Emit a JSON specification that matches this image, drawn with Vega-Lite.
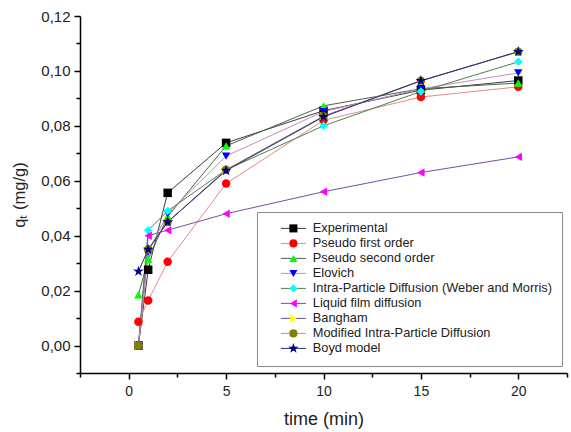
{
  "$schema": "https://vega.github.io/schema/vega-lite/v6.json",
  "width": 487,
  "height": 357,
  "autosize": {"type": "none"},
  "padding": {"left": 80, "top": 16, "right": 4, "bottom": 59},
  "background": "white",
  "config": {
    "view": {"stroke": null},
    "font": "Liberation Sans",
    "axis": {
      "domainColor": "#000000",
      "domainWidth": 1.5,
      "tickColor": "#000000",
      "tickWidth": 1.5,
      "grid": false,
      "labelFont": "Liberation Sans",
      "labelColor": "#222222",
      "titleFont": "Liberation Sans",
      "titleColor": "#222222",
      "titleFontWeight": "normal"
    }
  },
  "data": {
    "values": [
      {"series": "Experimental", "t": 0.5, "q": 0.0},
      {"series": "Experimental", "t": 1, "q": 0.0276},
      {"series": "Experimental", "t": 2, "q": 0.0556},
      {"series": "Experimental", "t": 5, "q": 0.0738},
      {"series": "Experimental", "t": 10, "q": 0.0855},
      {"series": "Experimental", "t": 15, "q": 0.093},
      {"series": "Experimental", "t": 20, "q": 0.0965},
      {"series": "Pseudo first order", "t": 0.5, "q": 0.0087},
      {"series": "Pseudo first order", "t": 1, "q": 0.0164},
      {"series": "Pseudo first order", "t": 2, "q": 0.0305},
      {"series": "Pseudo first order", "t": 5, "q": 0.059},
      {"series": "Pseudo first order", "t": 10, "q": 0.082},
      {"series": "Pseudo first order", "t": 15, "q": 0.0905},
      {"series": "Pseudo first order", "t": 20, "q": 0.0942},
      {"series": "Pseudo second order", "t": 0.5, "q": 0.0185},
      {"series": "Pseudo second order", "t": 1, "q": 0.0315},
      {"series": "Pseudo second order", "t": 2, "q": 0.047},
      {"series": "Pseudo second order", "t": 5, "q": 0.0727},
      {"series": "Pseudo second order", "t": 10, "q": 0.0873},
      {"series": "Pseudo second order", "t": 15, "q": 0.0935},
      {"series": "Pseudo second order", "t": 20, "q": 0.0956},
      {"series": "Elovich", "t": 0.5, "q": 0.0},
      {"series": "Elovich", "t": 1, "q": 0.034},
      {"series": "Elovich", "t": 2, "q": 0.048},
      {"series": "Elovich", "t": 5, "q": 0.069},
      {"series": "Elovich", "t": 10, "q": 0.0852},
      {"series": "Elovich", "t": 15, "q": 0.0935},
      {"series": "Elovich", "t": 20, "q": 0.0993},
      {"series": "Intra-Particle Diffusion (Weber and Morris)", "t": 0.5, "q": 0.0},
      {"series": "Intra-Particle Diffusion (Weber and Morris)", "t": 1, "q": 0.042},
      {"series": "Intra-Particle Diffusion (Weber and Morris)", "t": 2, "q": 0.049},
      {"series": "Intra-Particle Diffusion (Weber and Morris)", "t": 5, "q": 0.064},
      {"series": "Intra-Particle Diffusion (Weber and Morris)", "t": 10, "q": 0.08},
      {"series": "Intra-Particle Diffusion (Weber and Morris)", "t": 15, "q": 0.0925},
      {"series": "Intra-Particle Diffusion (Weber and Morris)", "t": 20, "q": 0.1033},
      {"series": "Liquid film diffusion", "t": 0.5, "q": 0.0},
      {"series": "Liquid film diffusion", "t": 1, "q": 0.04},
      {"series": "Liquid film diffusion", "t": 2, "q": 0.042},
      {"series": "Liquid film diffusion", "t": 5, "q": 0.048},
      {"series": "Liquid film diffusion", "t": 10, "q": 0.056},
      {"series": "Liquid film diffusion", "t": 15, "q": 0.063},
      {"series": "Liquid film diffusion", "t": 20, "q": 0.0687},
      {"series": "Bangham", "t": 0.5, "q": 0.0},
      {"series": "Bangham", "t": 1, "q": 0.035},
      {"series": "Bangham", "t": 2, "q": 0.045},
      {"series": "Bangham", "t": 5, "q": 0.064},
      {"series": "Bangham", "t": 10, "q": 0.0835},
      {"series": "Bangham", "t": 15, "q": 0.0964},
      {"series": "Bangham", "t": 20, "q": 0.107},
      {"series": "Modified Intra-Particle Diffusion", "t": 0.5, "q": 0.0},
      {"series": "Modified Intra-Particle Diffusion", "t": 1, "q": 0.035},
      {"series": "Modified Intra-Particle Diffusion", "t": 2, "q": 0.045},
      {"series": "Modified Intra-Particle Diffusion", "t": 5, "q": 0.064},
      {"series": "Modified Intra-Particle Diffusion", "t": 10, "q": 0.0835},
      {"series": "Modified Intra-Particle Diffusion", "t": 15, "q": 0.0964},
      {"series": "Modified Intra-Particle Diffusion", "t": 20, "q": 0.107},
      {"series": "Boyd model", "t": 0.5, "q": 0.027},
      {"series": "Boyd model", "t": 1, "q": 0.035},
      {"series": "Boyd model", "t": 2, "q": 0.045},
      {"series": "Boyd model", "t": 5, "q": 0.0637},
      {"series": "Boyd model", "t": 10, "q": 0.0833},
      {"series": "Boyd model", "t": 15, "q": 0.0964},
      {"series": "Boyd model", "t": 20, "q": 0.107}
    ]
  },
  "resolve": {"axis": {"x": "independent", "y": "independent"}},
  "layer": [
    {
      "mark": {"type": "line", "strokeWidth": 1, "clip": false},
      "encoding": {
        "x": {
          "field": "t", "type": "quantitative",
          "scale": {"domain": [-2.5, 22.5], "nice": false, "zero": false},
          "axis": {
            "orient": "bottom",
            "values": [0, 5, 10, 15, 20],
            "title": "time (min)",
            "titleFontSize": 18,
            "titlePadding": 12,
            "labelFontSize": 14,
            "labelPadding": 5,
            "tickSize": 6
          }
        },
        "y": {
          "field": "q", "type": "quantitative",
          "scale": {"domain": [-0.01, 0.12], "nice": false, "zero": false},
          "axis": {
            "orient": "left",
            "values": [0, 0.02, 0.04, 0.06, 0.08, 0.1, 0.12],
            "labelExpr": "replace(format(datum.value, '.2f'), '.', ',')",
            "title": "qₜ (mg/g)",
            "titleFontSize": 16.5,
            "titlePadding": 13,
            "labelFontSize": 15,
            "labelPadding": 4,
            "tickSize": 6
          }
        },
        "stroke": {
          "field": "series", "type": "nominal",
          "scale": {
            "domain": ["Boyd model", "Modified Intra-Particle Diffusion", "Bangham", "Liquid film diffusion", "Intra-Particle Diffusion (Weber and Morris)", "Elovich", "Pseudo second order", "Pseudo first order", "Experimental"],
            "range": ["#2e2e6e", "#b39494", "#6a4aa0", "#7a4fa0", "#4e7f4e", "#c58cc5", "#4a634a", "#e08a8a", "#3a3a3a"]
          },
          "legend": {
            "orient": "none",
            "legendX": 177,
            "legendY": 196,
            "title": null,
            "zindex": 1,
            "values": ["Experimental", "Pseudo first order", "Pseudo second order", "Elovich", "Intra-Particle Diffusion (Weber and Morris)", "Liquid film diffusion", "Bangham", "Modified Intra-Particle Diffusion", "Boyd model"],
            "padding": 10,
            "strokeColor": "#8a8a8a",
            "fillColor": "#ffffff",
            "labelFont": "Liberation Sans",
            "labelFontSize": 12.8,
            "labelColor": "#222222",
            "labelOpacity": 0,
            "labelLimit": 400,
            "symbolType": "M-3.1,0L3.1,0",
            "symbolSize": 65,
            "symbolStrokeWidth": 1,
            "symbolOffset": 20,
            "labelOffset": 13,
            "rowPadding": 1
          }
        }
      }
    },
    {
      "mark": {"type": "point", "filled": true, "opacity": 1, "size": 72, "clip": false},
      "encoding": {
        "x": {
          "field": "t", "type": "quantitative",
          "axis": {
            "orient": "bottom",
            "values": [-2.5, 2.5, 7.5, 12.5, 17.5, 22.5],
            "labels": false,
            "title": null,
            "domain": false,
            "tickSize": 4
          }
        },
        "y": {
          "field": "q", "type": "quantitative",
          "axis": {
            "orient": "left",
            "values": [-0.01, 0.01, 0.03, 0.05, 0.07, 0.09, 0.11],
            "labels": false,
            "title": null,
            "domain": false,
            "tickSize": 4
          }
        },
        "color": {
          "field": "series", "type": "nominal",
          "scale": {
            "domain": ["Experimental", "Pseudo first order", "Pseudo second order", "Elovich", "Intra-Particle Diffusion (Weber and Morris)", "Liquid film diffusion", "Bangham", "Modified Intra-Particle Diffusion", "Boyd model"],
            "range": ["#000000", "#ff0000", "#00ff00", "#0000ff", "#00ffff", "#ff00ff", "#ffff00", "#808000", "#000080"]
          },
          "legend": {
            "orient": "none",
            "legendX": 177,
            "legendY": 196,
            "title": null,
            "zindex": 2,
            "padding": 10,
            "strokeColor": "transparent",
            "fillColor": "transparent",
            "labelFont": "Liberation Sans",
            "labelFontSize": 12.8,
            "labelColor": "#222222",
            "labelLimit": 400,
            "symbolSize": 65,
            "symbolOffset": 20,
            "labelOffset": 13,
            "rowPadding": 1
          }
        },
        "shape": {
          "field": "series", "type": "nominal",
          "scale": {
            "domain": ["Experimental", "Pseudo first order", "Pseudo second order", "Elovich", "Intra-Particle Diffusion (Weber and Morris)", "Liquid film diffusion", "Bangham", "Modified Intra-Particle Diffusion", "Boyd model"],
            "range": ["square", "circle", "triangle-up", "triangle-down", "diamond", "triangle-left", "triangle-right", "circle", "M0,-1.35L0.3,-0.41L1.28,-0.42L0.49,0.16L0.79,1.09L0,0.51L-0.79,1.09L-0.49,0.16L-1.28,-0.42L-0.3,-0.41Z"]
          },
          "legend": {
            "orient": "none",
            "legendX": 177,
            "legendY": 196,
            "title": null,
            "zindex": 2,
            "padding": 10,
            "strokeColor": "transparent",
            "fillColor": "transparent",
            "labelFont": "Liberation Sans",
            "labelFontSize": 12.8,
            "labelColor": "#222222",
            "labelLimit": 400,
            "symbolSize": 65,
            "symbolOffset": 20,
            "labelOffset": 13,
            "rowPadding": 1
          }
        }
      }
    }
  ]
}
